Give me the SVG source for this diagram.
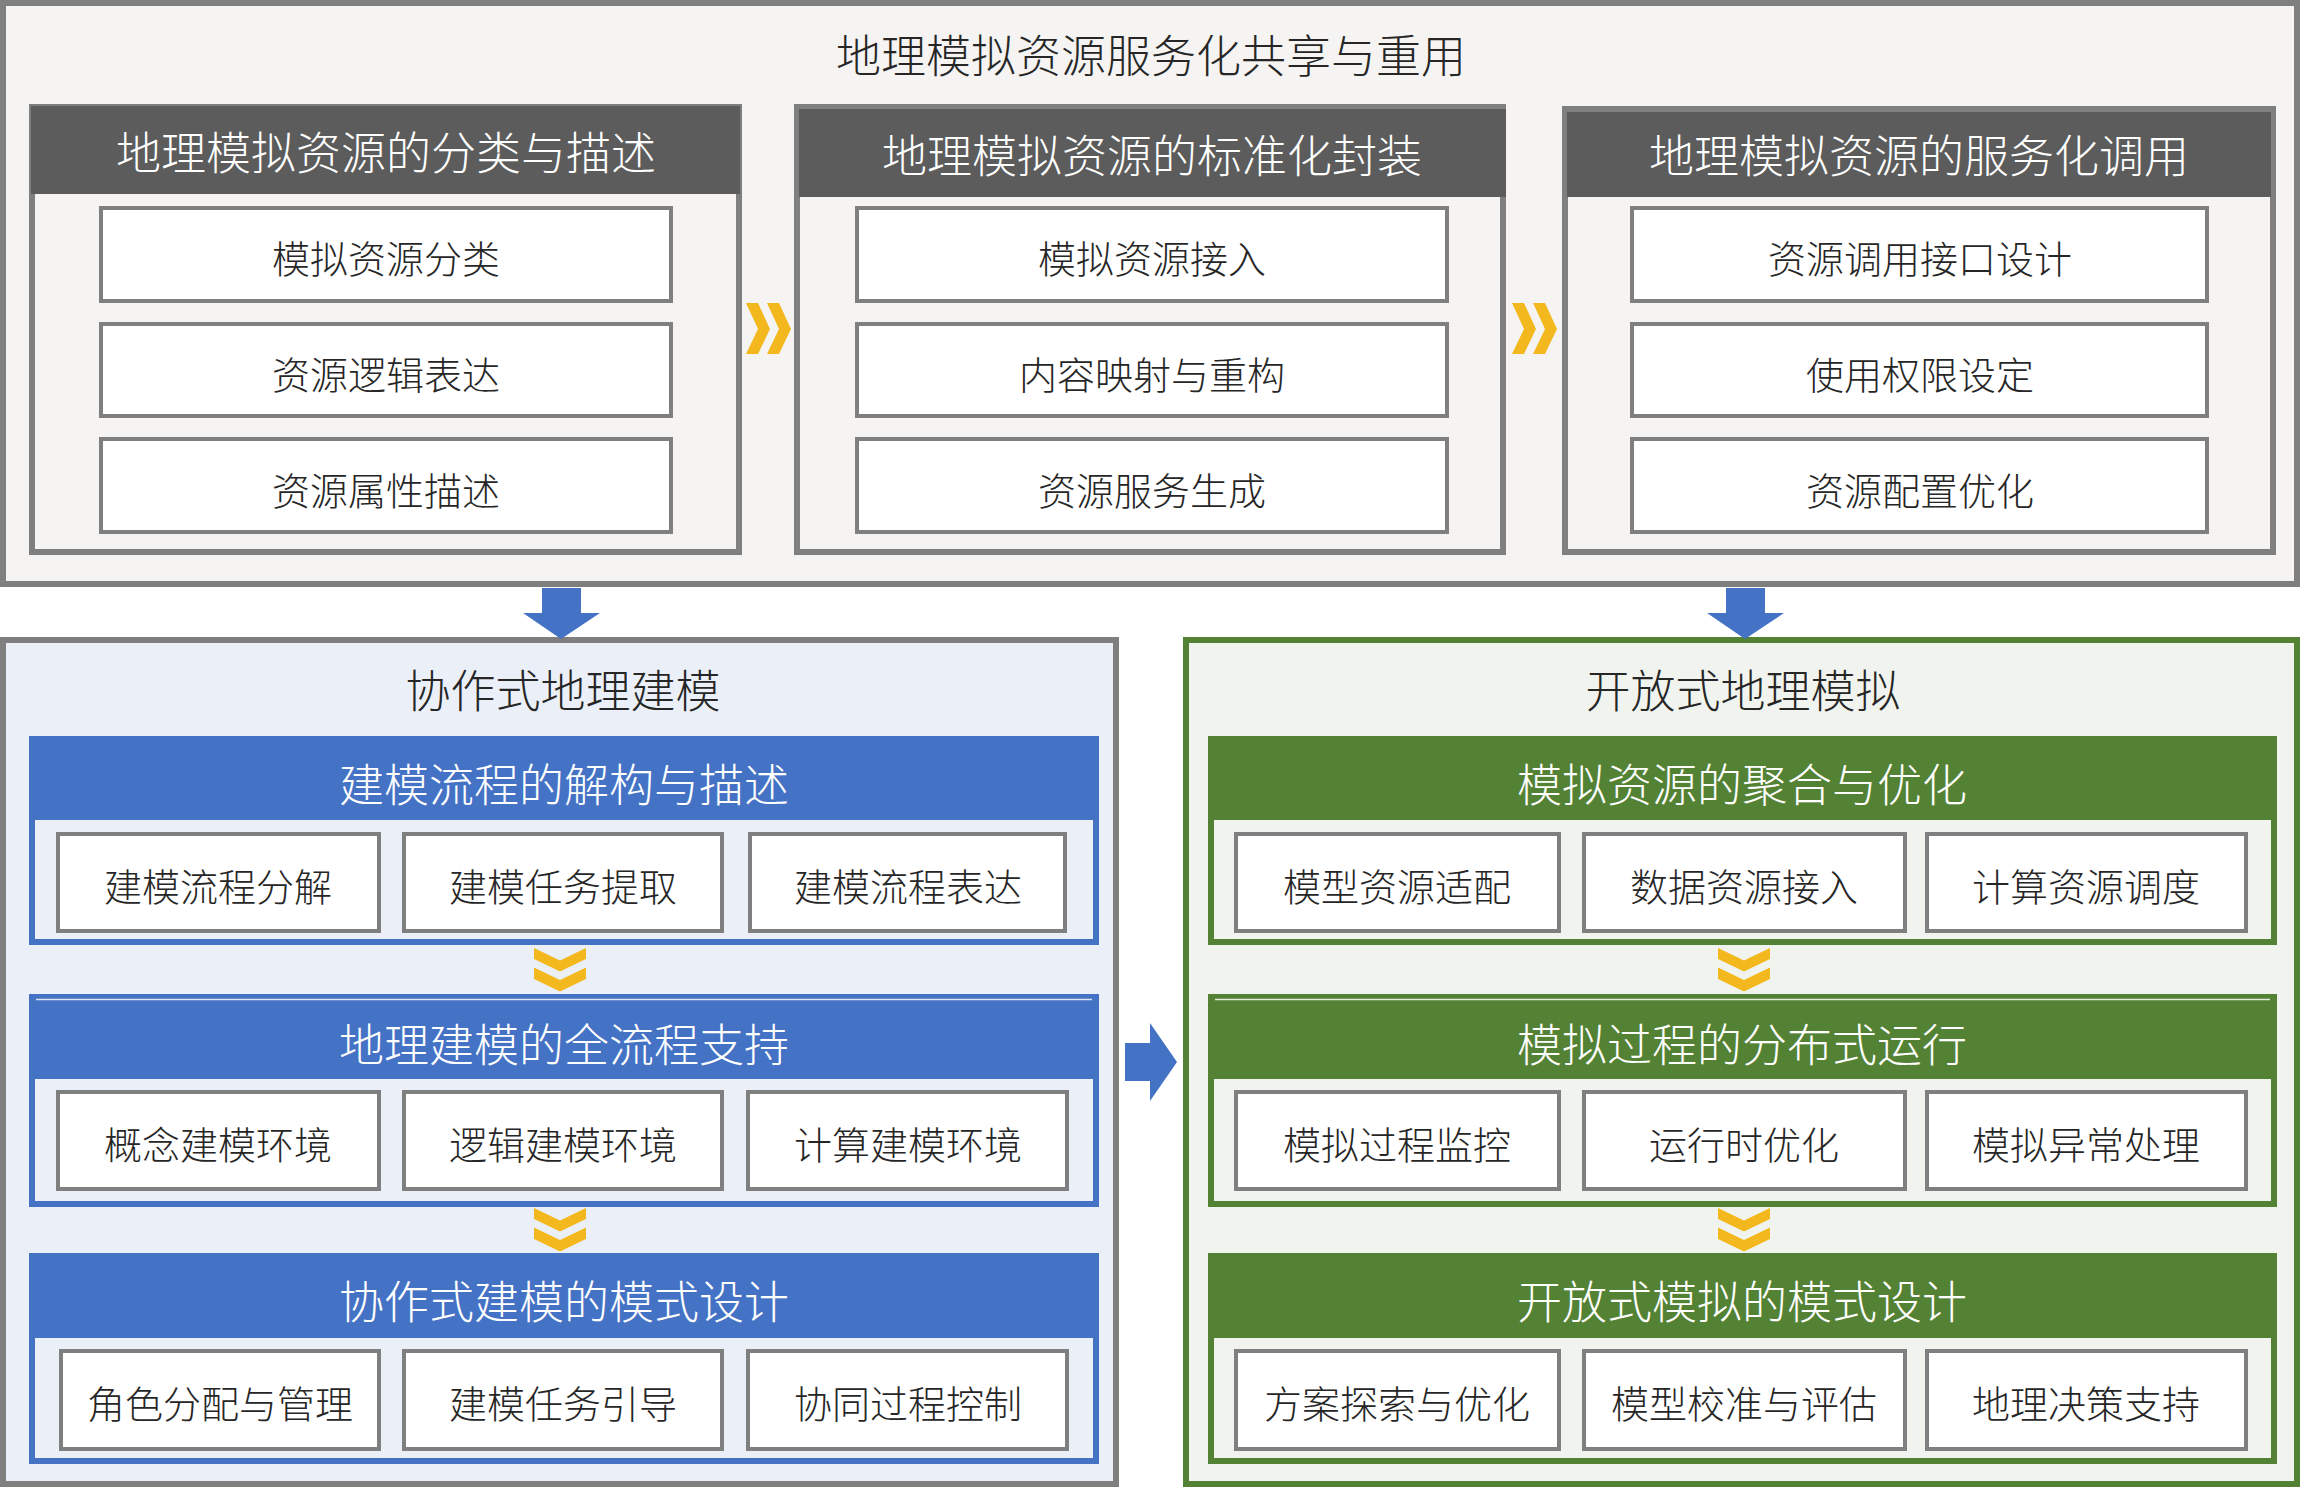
<svg xmlns="http://www.w3.org/2000/svg" width="2306" height="1488" viewBox="0 0 2306 1488">
<defs>
<style>
text{font-family:'Noto Sans CJK SC','Noto Sans CJK JP','Noto Sans',sans-serif;font-weight:300;text-anchor:middle}
.title{font-size:45px;fill:#262626}
.hdr{font-size:45px;fill:#ffffff}
.item{font-size:38px;fill:#262626}
.gframe{fill:#f5f4f3;stroke:#7f7f7f;stroke-width:6}
.dark{fill:#5b5c5b}
.box{fill:#ffffff;stroke:#7f7f7f;stroke-width:4}
.bframe{fill:#ebf0f8;stroke:#4472c4;stroke-width:6}
.blue{fill:#4472c4}
.grframe{fill:#f1f4ee;stroke:#548235;stroke-width:6}
.green{fill:#548235}
.gold{fill:#f4b81f}
.arrow{fill:#4472c4}
</style>
<path id="chevR" d="M0,0 L12,0 L24,26 L12,51 L0,51 L12,26 Z M21,0 L33,0 L45,26 L33,51 L21,51 L33,26 Z"/>
<path id="chevD" d="M0,0 L26,12.5 L52,0 L52,11 L26,23.5 L0,11 Z M0,19.5 L26,32 L52,19.5 L52,31 L26,43.5 L0,31 Z"/>
</defs>
<rect width="2306" height="1488" fill="#ffffff"/>

<g id="top-frame">
<rect class="gframe" x="3" y="3" width="2294" height="581"/>
<text class="title" x="1151" y="73">地理模拟资源服务化共享与重用</text>
</g>

<g id="panel-classify">
<rect class="gframe" x="32" y="107" width="707" height="445"/>
<rect class="dark" x="31" y="106" width="709" height="88"/>
<text class="hdr" x="386" y="170">地理模拟资源的分类与描述</text>
<rect class="box" x="101" y="208" width="570" height="93"/>
<text class="item" x="386" y="273">模拟资源分类</text>
<rect class="box" x="101" y="324" width="570" height="92"/>
<text class="item" x="386" y="389">资源逻辑表达</text>
<rect class="box" x="101" y="439" width="570" height="93"/>
<text class="item" x="386" y="505">资源属性描述</text>
</g>

<g id="panel-encapsulate">
<rect class="gframe" x="797" y="107" width="706" height="445"/>
<rect class="dark" x="799" y="109" width="707" height="88"/>
<text class="hdr" x="1152" y="173">地理模拟资源的标准化封装</text>
<rect class="box" x="857" y="208" width="590" height="93"/>
<text class="item" x="1152" y="273">模拟资源接入</text>
<rect class="box" x="857" y="324" width="590" height="92"/>
<text class="item" x="1152" y="389">内容映射与重构</text>
<rect class="box" x="857" y="439" width="590" height="93"/>
<text class="item" x="1152" y="505">资源服务生成</text>
</g>

<g id="panel-invoke">
<rect class="gframe" x="1565" y="109" width="708" height="443"/>
<rect class="dark" x="1567" y="112" width="704" height="85"/>
<text class="hdr" x="1919" y="173">地理模拟资源的服务化调用</text>
<rect class="box" x="1632" y="208" width="575" height="93"/>
<text class="item" x="1920" y="273">资源调用接口设计</text>
<rect class="box" x="1632" y="324" width="575" height="92"/>
<text class="item" x="1920" y="389">使用权限设定</text>
<rect class="box" x="1632" y="439" width="575" height="93"/>
<text class="item" x="1920" y="505">资源配置优化</text>
</g>

<g id="collab-frame">
<rect class="gframe" x="3" y="640" width="1113" height="844" style="fill:#ebf0f8"/>
<text class="title" x="563" y="708">协作式地理建模</text>
</g>

<g id="collab-sec1">
<rect class="bframe" x="32" y="739" width="1064" height="203"/>
<rect class="blue" x="29" y="736" width="1070" height="84"/>
<text class="hdr" x="564" y="802">建模流程的解构与描述</text>
<rect class="box" x="58" y="834" width="321" height="97"/>
<text class="item" x="218" y="901">建模流程分解</text>
<rect class="box" x="404" y="834" width="318" height="97"/>
<text class="item" x="563" y="901">建模任务提取</text>
<rect class="box" x="750" y="834" width="315" height="97"/>
<text class="item" x="908" y="901">建模流程表达</text>
</g>

<g id="collab-sec2">
<rect class="bframe" x="32" y="997" width="1064" height="207"/>
<rect class="blue" x="29" y="994" width="1070" height="85"/>
<line x1="36" y1="999.5" x2="1092" y2="999.5" stroke="#dce4f2" stroke-width="1.5"/>
<text class="hdr" x="564" y="1062">地理建模的全流程支持</text>
<rect class="box" x="58" y="1092" width="321" height="97"/>
<text class="item" x="218" y="1159">概念建模环境</text>
<rect class="box" x="404" y="1092" width="318" height="97"/>
<text class="item" x="563" y="1159">逻辑建模环境</text>
<rect class="box" x="748" y="1092" width="319" height="97"/>
<text class="item" x="908" y="1159">计算建模环境</text>
</g>

<g id="collab-sec3">
<rect class="bframe" x="32" y="1256" width="1064" height="205"/>
<rect class="blue" x="29" y="1253" width="1070" height="85"/>
<text class="hdr" x="564" y="1319">协作式建模的模式设计</text>
<rect class="box" x="61" y="1351" width="318" height="98"/>
<text class="item" x="220" y="1418">角色分配与管理</text>
<rect class="box" x="404" y="1351" width="318" height="98"/>
<text class="item" x="563" y="1418">建模任务引导</text>
<rect class="box" x="748" y="1351" width="319" height="98"/>
<text class="item" x="908" y="1418">协同过程控制</text>
</g>

<g id="open-frame">
<rect class="grframe" x="1186" y="640" width="1111" height="844"/>
<text class="title" x="1743" y="708">开放式地理模拟</text>
</g>

<g id="open-sec1">
<rect class="grframe" x="1211" y="739" width="1063" height="203"/>
<rect class="green" x="1208" y="736" width="1069" height="84"/>
<text class="hdr" x="1742" y="802">模拟资源的聚合与优化</text>
<rect class="box" x="1236" y="834" width="323" height="97"/>
<text class="item" x="1397" y="901">模型资源适配</text>
<rect class="box" x="1584" y="834" width="321" height="97"/>
<text class="item" x="1744" y="901">数据资源接入</text>
<rect class="box" x="1927" y="834" width="319" height="97"/>
<text class="item" x="2086" y="901">计算资源调度</text>
</g>

<g id="open-sec2">
<rect class="grframe" x="1211" y="997" width="1063" height="207"/>
<rect class="green" x="1208" y="994" width="1069" height="85"/>
<line x1="1215" y1="999.5" x2="2270" y2="999.5" stroke="#e3ebdc" stroke-width="1.5"/>
<text class="hdr" x="1742" y="1062">模拟过程的分布式运行</text>
<rect class="box" x="1236" y="1092" width="323" height="97"/>
<text class="item" x="1397" y="1159">模拟过程监控</text>
<rect class="box" x="1584" y="1092" width="321" height="97"/>
<text class="item" x="1744" y="1159">运行时优化</text>
<rect class="box" x="1927" y="1092" width="319" height="97"/>
<text class="item" x="2086" y="1159">模拟异常处理</text>
</g>

<g id="open-sec3">
<rect class="grframe" x="1211" y="1256" width="1063" height="205"/>
<rect class="green" x="1208" y="1253" width="1069" height="85"/>
<text class="hdr" x="1742" y="1319">开放式模拟的模式设计</text>
<rect class="box" x="1236" y="1351" width="323" height="98"/>
<text class="item" x="1397" y="1418">方案探索与优化</text>
<rect class="box" x="1584" y="1351" width="321" height="98"/>
<text class="item" x="1744" y="1418">模型校准与评估</text>
<rect class="box" x="1927" y="1351" width="319" height="98"/>
<text class="item" x="2086" y="1418">地理决策支持</text>
</g>

<g id="connectors">
<use href="#chevR" class="gold" x="746" y="303"/>
<use href="#chevR" class="gold" x="1512" y="303"/>
<path class="arrow" d="M542,588 L581,588 L581,613 L600,613 L561,639 L523,613 L542,613 Z"/>
<path class="arrow" d="M1726,588 L1765,588 L1765,613 L1784,613 L1745,639 L1707,613 L1726,613 Z"/>
<path class="arrow" d="M1125,1043 L1150,1043 L1150,1023 L1177,1062 L1150,1101 L1150,1081 L1125,1081 Z"/>
<use href="#chevD" class="gold" x="534" y="948"/>
<use href="#chevD" class="gold" x="534" y="1208"/>
<use href="#chevD" class="gold" x="1718" y="948"/>
<use href="#chevD" class="gold" x="1718" y="1208"/>
</g>
</svg>
